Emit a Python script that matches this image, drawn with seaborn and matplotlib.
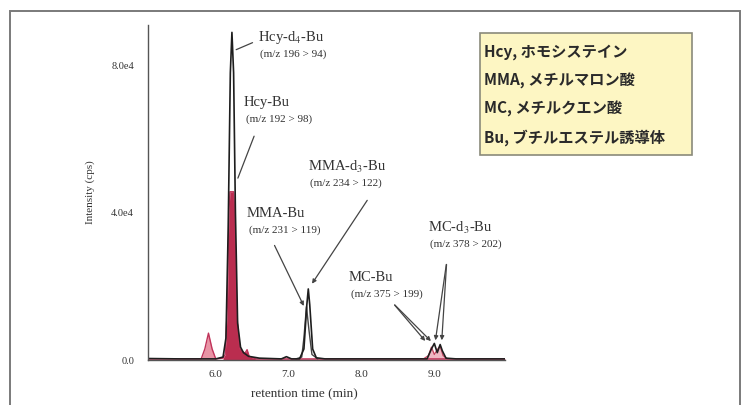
import numpy as np
import pandas as pd
import matplotlib
matplotlib.use("Agg")
import matplotlib.pyplot as plt
import seaborn as sns
from matplotlib.patches import Rectangle

sns.set_style("white")
plt.rcParams["font.family"] = ["Liberation Serif", "DejaVu Serif"]
plt.rcParams["mathtext.fontset"] = "stix"

# 内部標準 (黒) のクロマトグラム
is_time = [5.07, 5.5, 6.0, 6.1, 6.14, 6.17, 6.2, 6.222, 6.245, 6.27, 6.3, 6.34, 6.38,
           6.45, 6.6, 6.9, 6.97, 7.04, 7.15, 7.21, 7.25, 7.27, 7.29, 7.33, 7.38, 7.5,
           8.5, 8.9, 8.96, 9.0, 9.04, 9.08, 9.11, 9.16, 9.3, 9.97]
is_int = [400, 300, 300, 800, 6000, 35000, 78000, 89000, 78000, 40000, 10000, 3500, 2000,
          1000, 500, 300, 900, 300, 300, 3000, 15000, 19300, 15000, 3000, 600, 300,
          300, 300, 3000, 4500, 2000, 4200, 2500, 500, 300, 300]

# Hcy-Bu (赤)
hcy_time = [5.07, 5.6, 5.8, 5.85, 5.9, 5.95, 6.0, 6.1, 6.13, 6.16, 6.18, 6.195, 6.245,
            6.26, 6.29, 6.33, 6.4, 6.43, 6.46, 6.55, 6.8, 9.97]
hcy_int = [300, 300, 300, 3000, 7300, 3000, 300, 500, 1500, 15000, 40000, 45700, 45700,
           40000, 12000, 3000, 1800, 2800, 900, 300, 300, 300]

# MMA-Bu
mma_time = [7.1, 7.18, 7.21, 7.245, 7.28, 7.32, 7.4]
mma_int = [300, 800, 6000, 14500, 8000, 1500, 300]

# MC-Bu
mc_time = [8.85, 8.92, 8.96, 9.0, 9.04, 9.08, 9.12, 9.18]
mc_int = [300, 1200, 3500, 1500, 2800, 3800, 1200, 300]

x_ticks = [6.0, 7.0, 8.0, 9.0]
x_tick_labels = ["6.0", "7.0", "8.0", "9.0"]
y_ticks = [0, 40000, 80000]
y_tick_labels = ["0.0", "4.0e4", "8.0e4"]

legend_lines = ["Hcy, ホモシステイン", "MMA, メチルマロン酸", "MC, メチルクエン酸", "Bu, ブチルエステル誘導体"]

fig = plt.figure(figsize=(7.48, 4.05), dpi=100)
ax = fig.add_axes([148 / 748, 1 - 360 / 405, (505 - 148) / 748, (360 - 25) / 405])

red = "#b3163c"
early = [t < 6.05 for t in hcy_time]
main = [t >= 6.05 for t in hcy_time]
ax.fill_between(hcy_time, 0, hcy_int, where=early, color="#e0677f", alpha=0.7, lw=0)
ax.fill_between(hcy_time, 0, hcy_int, where=main, color=red, alpha=0.9, lw=0)
sns.lineplot(x=hcy_time, y=hcy_int, ax=ax, color="#c0335a", lw=1.0)
ax.fill_between(mc_time, 0, mc_int, color="#e58a9c", alpha=0.6, lw=0)
sns.lineplot(x=mc_time, y=mc_int, ax=ax, color="#c4445f", lw=0.9)
sns.lineplot(x=mma_time, y=mma_int, ax=ax, color="#444444", lw=1.0)
sns.lineplot(x=is_time, y=is_int, ax=ax, color="#1e1e1e", lw=1.2)

ax.set_xlim(5.07, 9.97)
ax.set_ylim(0, 91000)
ax.set_xticks(x_ticks)
ax.set_xticklabels(x_tick_labels, fontsize=8, color="#333333")
ax.set_yticks(y_ticks)
ax.set_yticklabels(y_tick_labels, fontsize=7.5, color="#333333")
ax.tick_params(axis="y", length=2, width=0.8, pad=8, color="#555555")
ax.tick_params(axis="x", length=0, pad=7)
for side in ["top", "right"]:
    ax.spines[side].set_visible(False)
for side in ["left", "bottom"]:
    ax.spines[side].set_color("#555555")
    ax.spines[side].set_linewidth(1.0)
ax.set_xlabel("retention time (min)", fontsize=9.5, color="#333333")
ax.xaxis.set_label_coords((304 - 148) / (505 - 148), -0.085)
ax.set_ylabel("Intensity (cps)", fontsize=8, color="#333333")
ax.yaxis.set_label_coords(-(148 - 95) / (505 - 148), 0.5)

tc = "#333333"
line_kw = dict(arrowstyle="-", color="#444444", lw=0.9)
arrow_kw = dict(arrowstyle="-|>", color="#444444", lw=0.9, mutation_scale=6)


def label(t, y, name, mz):
    ax.text(t, y, name, fontsize=10.5, color=tc, ha="left", va="center")
    ax.text(t + 0.03, y - 4500, mz, fontsize=8, color=tc, ha="left", va="center")


label(6.58, 87600, "Hcy-d$_{4}$-Bu", "(m/z 196 > 94)")
ax.annotate("", xy=(is_time[8], 84000), xytext=(6.54, 86500), arrowprops=line_kw)

label(6.38, 70000, "Hcy-Bu", "(m/z 192 > 98)")
ax.annotate("", xy=(6.29, hcy_int[12] + 3000), xytext=(6.54, 61500), arrowprops=line_kw)

label(7.27, 52500, "MMA-d$_{3}$-Bu", "(m/z 234 > 122)")
ax.annotate("", xy=(is_time[21] + 0.03, is_int[21] + 800), xytext=(8.1, 44000), arrowprops=arrow_kw)

label(6.43, 39700, "MMA-Bu", "(m/z 231 > 119)")
ax.annotate("", xy=(mma_time[3] - 0.02, mma_int[3] - 500), xytext=(6.79, 31800), arrowprops=arrow_kw)

label(8.91, 36000, "MC-d$_{3}$-Bu", "(m/z 378 > 202)")
for tx in [9.01, 9.1]:
    ax.annotate("", xy=(tx, 4600), xytext=(9.17, 26700), arrowprops=arrow_kw)

label(7.82, 22300, "MC-Bu", "(m/z 375 > 199)")
for tx in [8.9, 8.98]:
    ax.annotate("", xy=(tx, 4600), xytext=(8.43, 15500), arrowprops=arrow_kw)

# 略語ボックス
fig.patches.append(Rectangle((480 / 748, 1 - 155 / 405), 212 / 748, 122 / 405,
                             transform=fig.transFigure, facecolor="#fdf6c3",
                             edgecolor="#8a8a7a", lw=1.2))
for i, s in enumerate(legend_lines):
    fig.text(484 / 748, 1 - (52 + 28.5 * i) / 405, s, fontsize=11, fontweight="bold",
             family=["Noto Sans CJK JP", "DejaVu Sans"], color="#2a2a2a", va="center")

# 外枠
fig.patches.append(Rectangle((10 / 748, -0.1), 730 / 748, 1.1 - 11 / 405,
                             transform=fig.transFigure, fill=False,
                             edgecolor="#7a7a7a", lw=1.4, clip_on=False))

fig.savefig("out.png", dpi=100)
